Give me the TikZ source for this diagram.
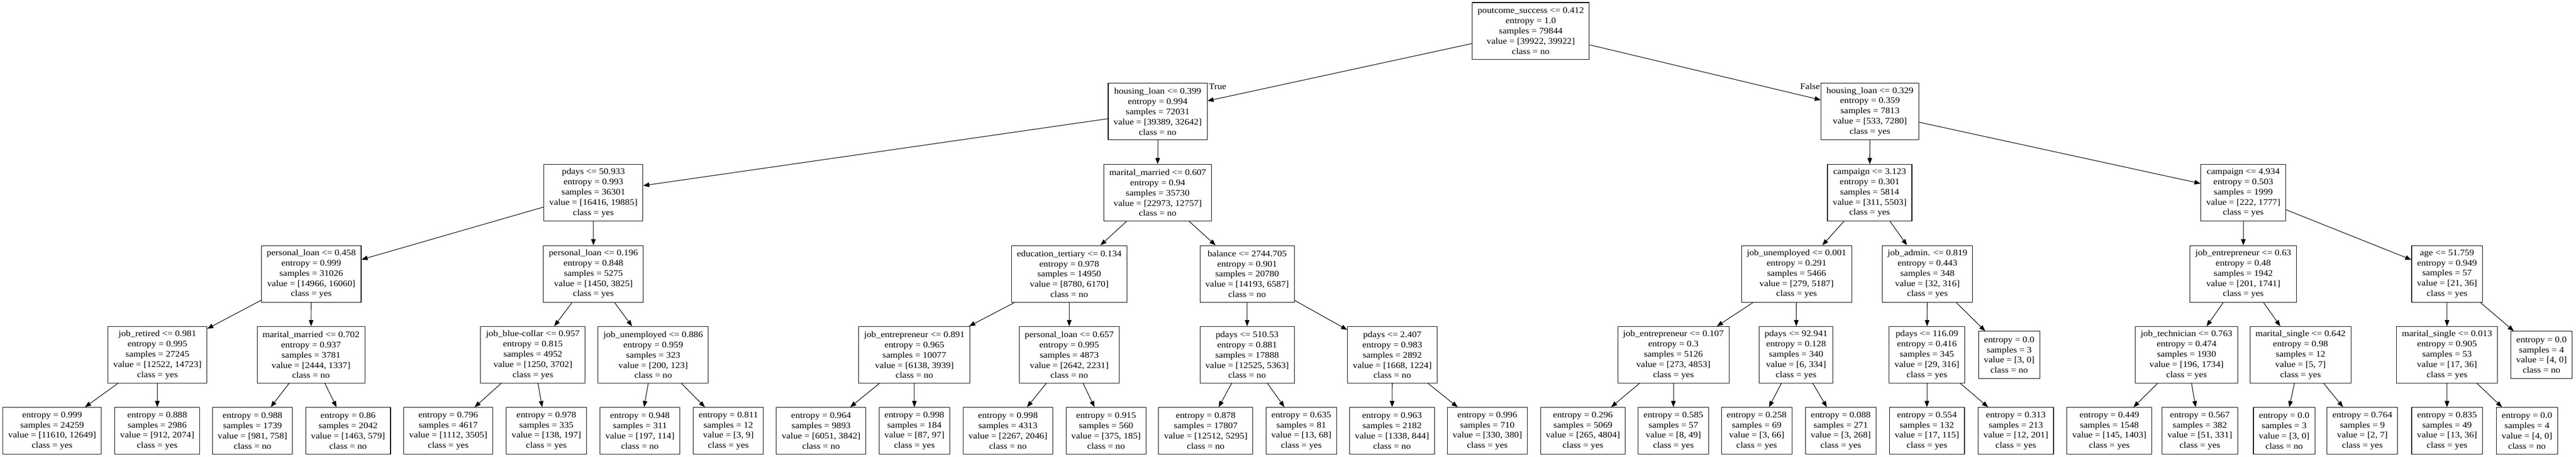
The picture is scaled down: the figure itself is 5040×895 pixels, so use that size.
\documentclass[tikz,border=0pt]{standalone}
\usepackage{fontspec}
\setmainfont{Liberation Serif}[FakeStretch=1.1]
\usetikzlibrary{arrows.meta}
\begin{document}
\begin{tikzpicture}[x=1pt,y=-1pt,
  tbox/.style={draw, line width=1.1pt, align=center, inner xsep=10.5pt, inner ysep=0pt,
    minimum height=111pt, font=\fontsize{16.7}{20}\selectfont},
  tleaf/.style={tbox, minimum height=92pt},
  edge/.style={line width=1.1pt, -{Triangle[length=12pt,width=9pt]}},
  elabel/.style={font=\fontsize{16.7}{20}\selectfont, inner sep=0pt}]
\useasboundingbox (0,0) rectangle (5040,895);
% level 0
\node[tbox] (root) at (2995,60.5) {poutcome\_success <= 0.412\\entropy = 1.0\\samples = 79844\\value = [39922, 39922]\\class = no};
% level 1
\node[tbox] (hlA) at (2265,218.5) {housing\_loan <= 0.399\\entropy = 0.994\\samples = 72031\\value = [39389, 32642]\\class = no};
\node[tbox] (hlB) at (3658.6,218.5) {housing\_loan <= 0.329\\entropy = 0.359\\samples = 7813\\value = [533, 7280]\\class = yes};
% level 2
\node[tbox] (pdA) at (1161,377.5) {pdays <= 50.933\\entropy = 0.993\\samples = 36301\\value = [16416, 19885]\\class = yes};
\node[tbox] (mmA) at (2265,377.5) {marital\_married <= 0.607\\entropy = 0.94\\samples = 35730\\value = [22973, 12757]\\class = no};
\node[tbox] (caA) at (3658,377.5) {campaign <= 3.123\\entropy = 0.301\\samples = 5814\\value = [311, 5503]\\class = yes};
\node[tbox] (caB) at (4389,377.5) {campaign <= 4.934\\entropy = 0.503\\samples = 1999\\value = [222, 1777]\\class = yes};
% level 3
\node[tbox] (plA) at (609,536.5) {personal\_loan <= 0.458\\entropy = 0.999\\samples = 31026\\value = [14966, 16060]\\class = yes};
\node[tbox] (plB) at (1161,536.5) {personal\_loan <= 0.196\\entropy = 0.848\\samples = 5275\\value = [1450, 3825]\\class = yes};
\node[tbox] (edA) at (2092,536.5) {education\_tertiary <= 0.134\\entropy = 0.978\\samples = 14950\\value = [8780, 6170]\\class = no};
\node[tbox] (baA) at (2440,536.5) {balance <= 2744.705\\entropy = 0.901\\samples = 20780\\value = [14193, 6587]\\class = no};
\node[tbox] (juA) at (3515,536.5) {job\_unemployed <= 0.001\\entropy = 0.291\\samples = 5466\\value = [279, 5187]\\class = yes};
\node[tbox] (jaA) at (3771,536.5) {job\_admin. <= 0.819\\entropy = 0.443\\samples = 348\\value = [32, 316]\\class = yes};
\node[tbox] (jeA) at (4389,536.5) {job\_entrepreneur <= 0.63\\entropy = 0.48\\samples = 1942\\value = [201, 1741]\\class = yes};
\node[tbox] (agA) at (4787.6,536.5) {age <= 51.759\\entropy = 0.949\\samples = 57\\value = [21, 36]\\class = yes};
% level 4
\node[tbox] (jrA) at (308,695) {job\_retired <= 0.981\\entropy = 0.995\\samples = 27245\\value = [12522, 14723]\\class = yes};
\node[tbox] (mmB) at (608.5,695) {marital\_married <= 0.702\\entropy = 0.937\\samples = 3781\\value = [2444, 1337]\\class = no};
\node[tbox] (jbA) at (1042.6,695) {job\_blue-collar <= 0.957\\entropy = 0.815\\samples = 4952\\value = [1250, 3702]\\class = yes};
\node[tbox] (juB) at (1278,695) {job\_unemployed <= 0.886\\entropy = 0.959\\samples = 323\\value = [200, 123]\\class = no};
\node[tbox] (jeB) at (1789,695) {job\_entrepreneur <= 0.891\\entropy = 0.965\\samples = 10077\\value = [6138, 3939]\\class = no};
\node[tbox] (plC) at (2092,695) {personal\_loan <= 0.657\\entropy = 0.995\\samples = 4873\\value = [2642, 2231]\\class = no};
\node[tbox] (pdB) at (2440,695) {pdays <= 510.53\\entropy = 0.881\\samples = 17888\\value = [12525, 5363]\\class = no};
\node[tbox] (pdC) at (2724,695) {pdays <= 2.407\\entropy = 0.983\\samples = 2892\\value = [1668, 1224]\\class = no};
\node[tbox] (jeC) at (3274,695) {job\_entrepreneur <= 0.107\\entropy = 0.3\\samples = 5126\\value = [273, 4853]\\class = yes};
\node[tbox] (pdD) at (3514,695) {pdays <= 92.941\\entropy = 0.128\\samples = 340\\value = [6, 334]\\class = yes};
\node[tbox] (pdE) at (3770,695) {pdays <= 116.09\\entropy = 0.416\\samples = 345\\value = [29, 316]\\class = yes};
\node[tleaf] (lfA) at (3931,695) {entropy = 0.0\\samples = 3\\value = [3, 0]\\class = no};
\node[tbox] (jtA) at (4278,695) {job\_technician <= 0.763\\entropy = 0.474\\samples = 1930\\value = [196, 1734]\\class = yes};
\node[tbox] (msA) at (4501,695) {marital\_single <= 0.642\\entropy = 0.98\\samples = 12\\value = [5, 7]\\class = yes};
\node[tbox] (msB) at (4787.6,695) {marital\_single <= 0.013\\entropy = 0.905\\samples = 53\\value = [17, 36]\\class = yes};
\node[tleaf] (lfB) at (4972.5,695) {entropy = 0.0\\samples = 4\\value = [4, 0]\\class = no};
% level 5
\node[tleaf] (L1) at (102,844) {entropy = 0.999\\samples = 24259\\value = [11610, 12649]\\class = yes};
\node[tleaf] (L2) at (307.6,844) {entropy = 0.888\\samples = 2986\\value = [912, 2074]\\class = yes};
\node[tleaf] (L3) at (494,844) {entropy = 0.988\\samples = 1739\\value = [981, 758]\\class = no};
\node[tleaf] (L4) at (681,844) {entropy = 0.86\\samples = 2042\\value = [1463, 579]\\class = no};
\node[tleaf] (L5) at (877,844) {entropy = 0.796\\samples = 4617\\value = [1112, 3505]\\class = yes};
\node[tleaf] (L6) at (1069,844) {entropy = 0.978\\samples = 335\\value = [138, 197]\\class = yes};
\node[tleaf] (L7) at (1252,844) {entropy = 0.948\\samples = 311\\value = [197, 114]\\class = no};
\node[tleaf] (L8) at (1425,844) {entropy = 0.811\\samples = 12\\value = [3, 9]\\class = yes};
\node[tleaf] (L9) at (1606.5,844) {entropy = 0.964\\samples = 9893\\value = [6051, 3842]\\class = no};
\node[tleaf] (L10) at (1789,844) {entropy = 0.998\\samples = 184\\value = [87, 97]\\class = yes};
\node[tleaf] (L11) at (1972,844) {entropy = 0.998\\samples = 4313\\value = [2267, 2046]\\class = no};
\node[tleaf] (L12) at (2164,844) {entropy = 0.915\\samples = 560\\value = [375, 185]\\class = no};
\node[tleaf] (L13) at (2359,844) {entropy = 0.878\\samples = 17807\\value = [12512, 5295]\\class = no};
\node[tleaf] (L14) at (2546,844) {entropy = 0.635\\samples = 81\\value = [13, 68]\\class = yes};
\node[tleaf] (L15) at (2723.5,844) {entropy = 0.963\\samples = 2182\\value = [1338, 844]\\class = no};
\node[tleaf] (L16) at (2910,844) {entropy = 0.996\\samples = 710\\value = [330, 380]\\class = yes};
\node[tleaf] (L17) at (3097,844) {entropy = 0.296\\samples = 5069\\value = [265, 4804]\\class = yes};
\node[tleaf] (L18) at (3274,844) {entropy = 0.585\\samples = 57\\value = [8, 49]\\class = yes};
\node[tleaf] (L19) at (3437,844) {entropy = 0.258\\samples = 69\\value = [3, 66]\\class = yes};
\node[tleaf] (L20) at (3601.5,844) {entropy = 0.088\\samples = 271\\value = [3, 268]\\class = yes};
\node[tleaf] (L21) at (3770,844) {entropy = 0.554\\samples = 132\\value = [17, 115]\\class = yes};
\node[tleaf] (L22) at (3944,844) {entropy = 0.313\\samples = 213\\value = [12, 201]\\class = yes};
\node[tleaf] (L23) at (4127,844) {entropy = 0.449\\samples = 1548\\value = [145, 1403]\\class = yes};
\node[tleaf] (L24) at (4304,844) {entropy = 0.567\\samples = 382\\value = [51, 331]\\class = yes};
\node[tleaf] (L25) at (4469,844) {entropy = 0.0\\samples = 3\\value = [3, 0]\\class = no};
\node[tleaf] (L26) at (4622,844) {entropy = 0.764\\samples = 9\\value = [2, 7]\\class = yes};
\node[tleaf] (L27) at (4787.6,844) {entropy = 0.835\\samples = 49\\value = [13, 36]\\class = yes};
\node[tleaf] (L28) at (4944,844) {entropy = 0.0\\samples = 4\\value = [4, 0]\\class = no};
% edge labels
\node[elabel, anchor=base west] (tlab) at (2365,175) {True};
\node[elabel, anchor=base east] (flab) at (3561,175) {False};
% edges
\foreach \p/\c in {root/hlA, root/hlB,
  hlA/pdA, hlA/mmA, hlB/caA, hlB/caB,
  pdA/plA, pdA/plB, mmA/edA, mmA/baA, caA/juA, caA/jaA, caB/jeA, caB/agA,
  plA/jrA, plA/mmB, plB/jbA, plB/juB, edA/jeB, edA/plC, baA/pdB, baA/pdC,
  juA/jeC, juA/pdD, jaA/pdE, jaA/lfA, jeA/jtA, jeA/msA, agA/msB, agA/lfB,
  jrA/L1, jrA/L2, mmB/L3, mmB/L4, jbA/L5, jbA/L6, juB/L7, juB/L8,
  jeB/L9, jeB/L10, plC/L11, plC/L12, pdB/L13, pdB/L14, pdC/L15, pdC/L16,
  jeC/L17, jeC/L18, pdD/L19, pdD/L20, pdE/L21, pdE/L22, jtA/L23, jtA/L24,
  msA/L25, msA/L26, msB/L27, msB/L28}
  \draw[edge] (\p) -- (\c);
\end{tikzpicture}
\end{document}
